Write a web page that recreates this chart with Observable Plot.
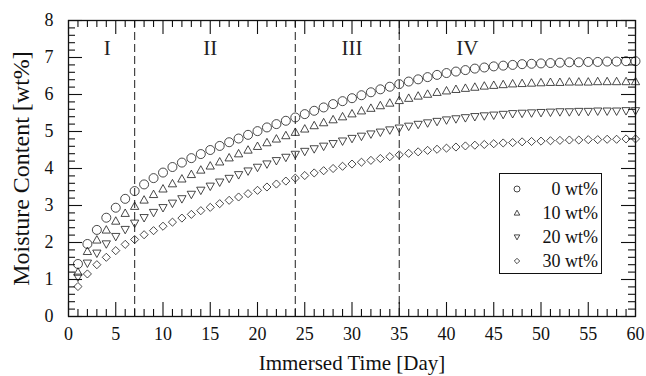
<!DOCTYPE html>
<html><head><meta charset="utf-8">
<script src="https://cdn.jsdelivr.net/npm/d3@7"></script>
<script src="https://cdn.jsdelivr.net/npm/@observablehq/plot@0.6"></script>
<style>
html,body{margin:0;padding:0;background:#fff;}
#chart{width:646px;height:376px;overflow:hidden;}
</style></head><body><div id="chart"></div>
<script>
// ---- data ----
const days = [1,2,3,4,5,6,7,8,9,10,11,12,13,14,15,16,17,18,19,20,21,22,23,24,25,26,27,28,29,30,
              31,32,33,34,35,36,37,38,39,40,41,42,43,44,45,46,47,48,49,50,51,52,53,54,55,56,57,58,59,60];
const wt0 = [1.42,1.96,2.34,2.67,2.94,3.18,3.39,3.57,3.74,3.89,4.04,4.16,4.28,4.39,4.50,4.61,4.71,4.81,4.91,5.01,
             5.11,5.20,5.29,5.38,5.47,5.56,5.65,5.74,5.82,5.90,5.98,6.06,6.14,6.21,6.28,6.35,6.41,6.47,6.53,6.58,
             6.62,6.66,6.70,6.73,6.76,6.78,6.80,6.82,6.83,6.84,6.85,6.86,6.87,6.87,6.88,6.88,6.89,6.89,6.90,6.90];
const wt10 = [1.20,1.76,2.07,2.34,2.58,2.79,2.98,3.15,3.30,3.45,3.59,3.72,3.84,3.96,4.07,4.18,4.29,4.40,4.50,4.60,
              4.70,4.80,4.89,4.98,5.07,5.16,5.24,5.32,5.40,5.48,5.56,5.63,5.70,5.77,5.84,5.90,5.96,6.01,6.06,6.10,
              6.14,6.17,6.20,6.23,6.25,6.27,6.29,6.30,6.31,6.32,6.33,6.33,6.34,6.34,6.34,6.35,6.35,6.35,6.35,6.35];
const wt20 = [1.06,1.44,1.71,1.96,2.16,2.35,2.52,2.67,2.81,2.94,3.06,3.18,3.30,3.41,3.52,3.63,3.73,3.83,3.93,4.03,
              4.12,4.21,4.30,4.38,4.46,4.53,4.60,4.67,4.74,4.81,4.87,4.93,4.98,5.04,5.09,5.14,5.19,5.23,5.27,5.31,
              5.34,5.37,5.40,5.42,5.44,5.46,5.48,5.49,5.50,5.51,5.52,5.53,5.53,5.54,5.54,5.55,5.55,5.55,5.56,5.56];
const wt30 = [0.81,1.15,1.40,1.60,1.78,1.95,2.08,2.21,2.32,2.44,2.55,2.66,2.76,2.86,2.95,3.05,3.14,3.23,3.32,3.41,
              3.50,3.58,3.66,3.74,3.81,3.88,3.94,4.00,4.06,4.12,4.17,4.22,4.27,4.32,4.37,4.41,4.45,4.49,4.52,4.55,
              4.58,4.61,4.63,4.65,4.67,4.69,4.70,4.72,4.73,4.74,4.75,4.76,4.77,4.77,4.78,4.78,4.79,4.79,4.80,4.80];
const seriesNames = ["0 wt%","10 wt%","20 wt%","30 wt%"];
const phaseBounds = [7,24,35];
const phaseLabels = ["I","II","III","IV"];
const phaseLabelX = [4.1,15,30,42.2];
const phaseLabelY = 7.25;
const xTicks = [0,5,10,15,20,25,30,35,40,45,50,55,60];
const yTicks = [0,1,2,3,4,5,6,7,8];
const xTitle = "Immersed Time [Day]";
const yTitle = "Moisture Content [wt%]";

// ---- symbols ----
const k = s => Math.sqrt(s/Math.PI);
const symCircle = {draw(c,s){const r=k(s); c.moveTo(r,0); c.arc(0,0,r,0,2*Math.PI);}};
const symUp = {draw(c,s){const r=k(s); c.moveTo(0,-0.95*r); c.lineTo(0.92*r,0.7*r); c.lineTo(-0.92*r,0.7*r); c.closePath();}};
const symDown = {draw(c,s){const r=k(s); c.moveTo(0,0.95*r); c.lineTo(0.92*r,-0.7*r); c.lineTo(-0.92*r,-0.7*r); c.closePath();}};
const symDiamond = {draw(c,s){const r=k(s)*0.9; c.moveTo(0,-r); c.lineTo(r,0); c.lineTo(0,r); c.lineTo(-r,0); c.closePath();}};
const symbols = [symCircle, symUp, symDown, symDiamond];
const allSeries = [wt0, wt10, wt20, wt30];

const W=646,H=376,mL=68,mR=11,mT=20,mB=60;
const iw=W-mL-mR, ih=H-mT-mB;
const xMinor = d3.range(0,61,1).filter(d=>d%5!==0);
const yMinor = d3.range(0,8.01,0.2).map(d=>+d.toFixed(1)).filter(d=>Math.abs(d-Math.round(d))>1e-6);
const majorLen=14, minorLen=7;

const dotMarks = allSeries.map((vals,i)=>Plot.dot(days.map((d,j)=>({day:d,value:vals[j]})),
  {x:"day", y:"value", symbol:symbols[i], r:4.5, stroke:"#1a1a1a", strokeWidth:0.8, fill:"none"}));

const tickStyle = {stroke:"#111", strokeWidth:1.1};
const chart = Plot.plot({
  width:W, height:H, marginLeft:mL, marginRight:mR, marginTop:mT, marginBottom:mB,
  style:{fontFamily:"'Liberation Serif','DejaVu Serif',serif", fontSize:"18px", color:"#111", background:"#fff"},
  x:{domain:[0,60]},
  y:{domain:[0,8]},
  marks:[
    Plot.ruleX(phaseBounds, {stroke:"#333", strokeWidth:1.1, strokeDasharray:"8,4"}),
    ...dotMarks,
    Plot.text(phaseLabels, {x:(d,i)=>phaseLabelX[i], y:()=>phaseLabelY, text:d=>d, fontSize:21, fill:"#222"}),
    // inward ticks on all four sides
    Plot.ruleX(xTicks, {...tickStyle, insetTop:ih-majorLen}),
    Plot.ruleX(xMinor, {...tickStyle, insetTop:ih-minorLen}),
    Plot.ruleX(xTicks, {...tickStyle, insetBottom:ih-majorLen}),
    Plot.ruleX(xMinor, {...tickStyle, insetBottom:ih-minorLen}),
    Plot.ruleY(yTicks, {...tickStyle, insetRight:iw-majorLen}),
    Plot.ruleY(yMinor, {...tickStyle, insetRight:iw-minorLen}),
    Plot.ruleY(yTicks, {...tickStyle, insetLeft:iw-majorLen}),
    Plot.ruleY(yMinor, {...tickStyle, insetLeft:iw-minorLen}),
    Plot.frame({stroke:"#111", strokeWidth:1.3}),
    Plot.axisX({ticks:xTicks, tickSize:0, tickPadding:11, label:null, fontSize:18, tickFormat:d=>d}),
    Plot.axisY({ticks:yTicks, tickSize:0, tickPadding:15, label:null, fontSize:18, tickFormat:d=>d}),
    Plot.text([xTitle], {frameAnchor:"bottom", dy:47, lineAnchor:"middle", textAnchor:"middle", fontSize:21, text:d=>d}),
    Plot.text([yTitle], {frameAnchor:"left", dx:-47, rotate:-90, lineAnchor:"middle", textAnchor:"middle", fontSize:24, text:d=>d})
  ]
});
document.getElementById("chart").appendChild(chart);

// ---- legend ----
const svg = d3.select(chart);
const lg = svg.append("g").attr("font-family","'Liberation Serif','DejaVu Serif',serif").attr("font-size",18);
lg.append("rect").attr("x",499.5).attr("y",173.5).attr("width",102).attr("height",100)
  .attr("fill","#fff").attr("stroke","#111").attr("stroke-width",1);
seriesNames.forEach((name,i)=>{
  const cy = 189 + i*24;
  lg.append("path").attr("transform",`translate(517,${cy})`)
    .attr("d", d3.symbol(symbols[i], Math.PI*3*3)())
    .attr("fill","none").attr("stroke","#1a1a1a").attr("stroke-width",0.8);
  lg.append("text").attr("x",598).attr("y",cy).attr("dy","0.35em").attr("text-anchor","end")
    .attr("fill","#111").text(name);
});
</script></body></html>
